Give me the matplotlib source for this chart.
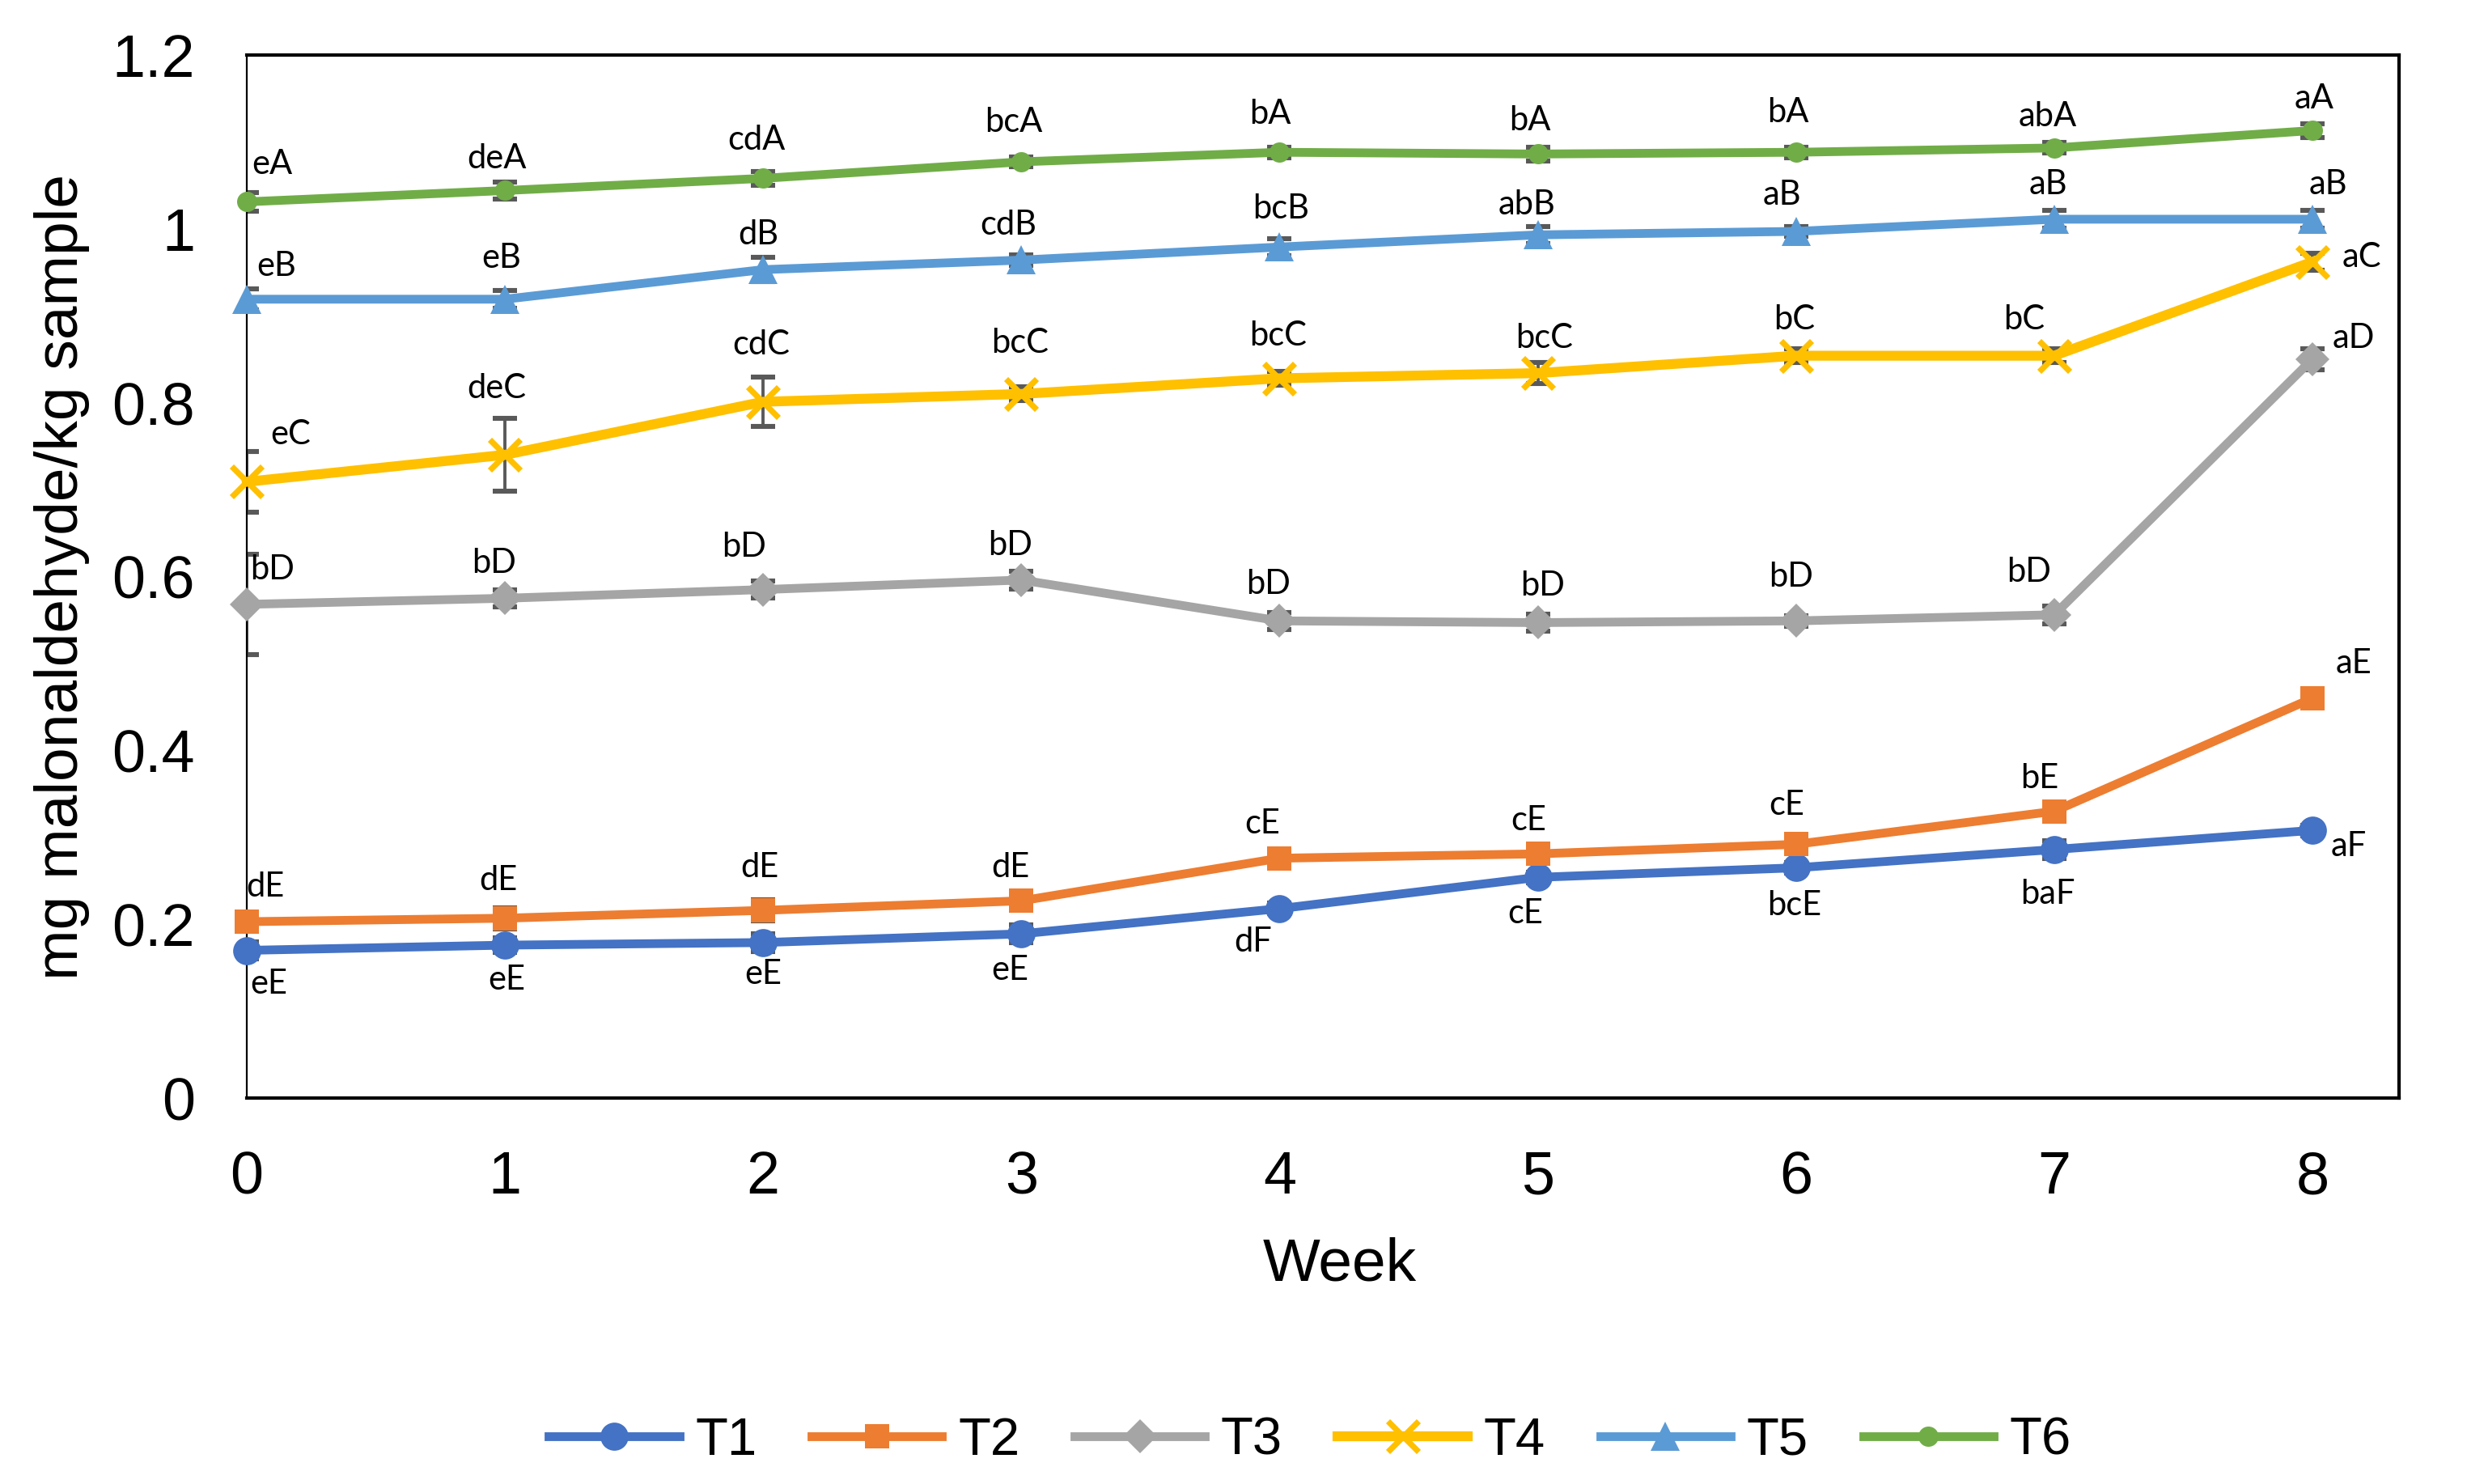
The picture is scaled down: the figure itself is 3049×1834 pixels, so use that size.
import matplotlib
matplotlib.use("Agg")
import matplotlib.pyplot as plt

weeks = [0, 1, 2, 3, 4, 5, 6, 7, 8]
names = ["T1", "T2", "T3", "T4", "T5", "T6"]

t1 = [0.170, 0.176, 0.179, 0.189, 0.218, 0.254, 0.265, 0.286, 0.308]
t2 = [0.203, 0.207, 0.216, 0.227, 0.276, 0.281, 0.292, 0.330, 0.460]
t3 = [0.568, 0.575, 0.585, 0.596, 0.549, 0.547, 0.549, 0.556, 0.850]
t4 = [0.709, 0.740, 0.801, 0.810, 0.828, 0.834, 0.854, 0.854, 0.962]
t5 = [0.919, 0.919, 0.953, 0.964, 0.979, 0.993, 0.997, 1.011, 1.011]
t6 = [1.031, 1.044, 1.058, 1.077, 1.088, 1.086, 1.088, 1.093, 1.113]

e1 = [0.010, 0.008, 0.010, 0.010, 0.006, 0.006, 0.006, 0.010, 0.006]
e2 = [0.010, 0.012, 0.012, 0.008, 0.008, 0.006, 0.006, 0.008, 0.008]
e3 = [0.058, 0.010, 0.010, 0.010, 0.010, 0.010, 0.006, 0.010, 0.012]
e4 = [0.035, 0.042, 0.028, 0.008, 0.008, 0.012, 0.008, 0.008, 0.010]
e5 = [0.012, 0.010, 0.014, 0.006, 0.010, 0.010, 0.006, 0.010, 0.010]
e6 = [0.011, 0.010, 0.008, 0.006, 0.006, 0.008, 0.006, 0.006, 0.008]

lab1 = ["eE", "eE", "eE", "eE", "dF", "cE", "bcE", "baF", "aF"]
lab2 = ["dE", "dE", "dE", "dE", "cE", "cE", "cE", "bE", "aE"]
lab3 = ["bD", "bD", "bD", "bD", "bD", "bD", "bD", "bD", "aD"]
lab4 = ["eC", "deC", "cdC", "bcC", "bcC", "bcC", "bC", "bC", "aC"]
lab5 = ["eB", "eB", "dB", "cdB", "bcB", "abB", "aB", "aB", "aB"]
lab6 = ["eA", "deA", "cdA", "bcA", "bA", "bA", "bA", "abA", "aA"]

values = [t1, t2, t3, t4, t5, t6]
errors = [e1, e2, e3, e4, e5, e6]
letters = [lab1, lab2, lab3, lab4, lab5, lab6]

colors = ["#4472C4", "#ED7D31", "#A5A5A5", "#FFC000", "#5B9BD5", "#70AD47"]
markers = ["o", "s", "D", "x", "^", "o"]
msizes = [12.5, 11, 10.5, 14, 13, 9]

# label offsets (reference px, x right / y up)
offs = [
    [(14, -21), (1, -22), (0, -20), (-7, -23), (-17, -21), (-8, -23), (-1, -24), (-4, -28), (23, -10)],
    [(12, 22), (-4, 24), (-2, 27), (-7, 21), (-11, 22), (-6, 21), (-6, 25), (-9, 21), (26, 22)],
    [(16, 22), (-7, 22), (-12, 27), (-7, 22), (-7, 23), (3, 23), (-3, 28), (-16, 27), (26, 13)],
    [(28, 30), (-5, 42), (-1, 36), (-1, 32), (-1, 27), (4, 22), (-1, 23), (-19, 23), (31, 3)],
    [(19, 21), (-2, 26), (-3, 22), (-8, 22), (1, 24), (-7, 19), (-9, 23), (-4, 22), (10, 22)],
    [(16, 24), (-5, 20), (-4, 24), (-5, 25), (-6, 24), (-5, 21), (-5, 25), (-4, 20), (1, 20)],
]
px = 0.704

plt.rcParams["font.family"] = ["Liberation Sans", "DejaVu Sans"]
fig = plt.figure(figsize=(15.245, 9.17), dpi=200)
ax = fig.add_axes([0.100, 0.260, 0.8724, 0.703])

for i in range(6):
    ax.errorbar(weeks, values[i], yerr=errors[i], fmt="none", ecolor="#595959",
                elinewidth=1.4, capsize=5.5, capthick=2.2, zorder=2)
for i in range(6):
    mew = 2.6 if markers[i] == "x" else 0
    ax.plot(weeks, values[i], color=colors[i], lw=4.4 if i == 3 else 3.9,
            marker=markers[i], ms=msizes[i], mew=mew, mec=colors[i],
            label=names[i], zorder=3, clip_on=False)
    for j in range(9):
        dx, dy = offs[i][j]
        ax.annotate(letters[i][j], (weeks[j], values[i][j]),
                    xytext=(dx * px, dy * px), textcoords="offset points",
                    ha="center", va="center", fontsize=15, family="Lato",
                    zorder=4)

ax.set_xlim(0, 8.335)
ax.set_ylim(0, 1.2)
ax.set_xticks(weeks)
ax.set_yticks([0, 0.2, 0.4, 0.6, 0.8, 1.0, 1.2])
ax.set_yticklabels(["0", "0.2", "0.4", "0.6", "0.8", "1", "1.2"])
ax.tick_params(length=0, labelsize=26.5)
ax.tick_params(axis="y", pad=23)
ax.tick_params(axis="x", pad=23)
for s in ["top", "right", "bottom"]:
    ax.spines[s].set_linewidth(1.5)
ax.spines["left"].set_linewidth(0.8)

ax.set_xlabel("Week", fontsize=27)
ax.set_ylabel("mg malonaldehyde/kg sample", fontsize=27)
ax.xaxis.set_label_coords(0.508, -0.133)
ax.yaxis.set_label_coords(-0.073, 0.5)

fig.legend(loc="center", bbox_to_anchor=(0.531, 0.029), ncol=6, frameon=False,
           fontsize=23.5, handlelength=2.47, handletextpad=0.3,
           columnspacing=1.04, numpoints=1)

fig.savefig("out.png", dpi=200)
